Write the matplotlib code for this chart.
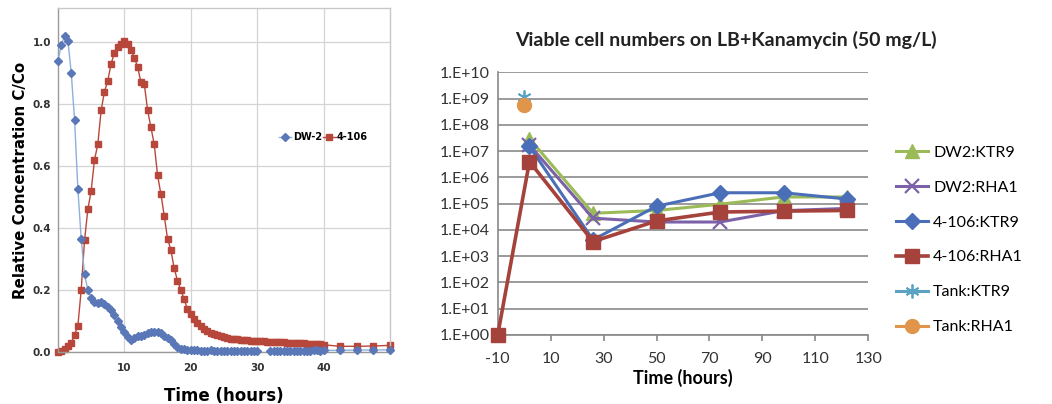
#!/usr/bin/env python3
"""Breakthrough curves and viable cell counts, side by side."""

import matplotlib

matplotlib.use("Agg")

import matplotlib.pyplot as plt
import numpy as np

# ---- left panel: relative concentration C/Co ----
t_dense = [i * 0.5 for i in range(81)]
t_sparse = [42.5, 45.0, 47.5, 50.0]

dw2_vals = [
    0.94, 0.99, 1.02, 1.005, 0.90, 0.75, 0.525, 0.365, 0.25, 0.20,
    0.175, 0.162, 0.158, 0.160, 0.155, 0.146, 0.135, 0.120, 0.100, 0.080,
    0.065, 0.048, 0.039, 0.045, 0.050, 0.052, 0.056, 0.060, 0.064, 0.065,
    0.065, 0.062, 0.052, 0.045, 0.039, 0.025, 0.016, 0.010, 0.008, 0.006,
    0.006, 0.005, 0.005, 0.004, 0.004, 0.004, 0.005, 0.004, 0.003, 0.004,
    0.004, 0.003, 0.003, 0.004, 0.004, 0.003, 0.003, 0.003, 0.004, 0.003,
    0.003, np.nan, np.nan, np.nan, 0.002, 0.002, 0.003, 0.003, 0.002, 0.003,
    0.003, 0.003, 0.004, 0.004, 0.003, 0.004, 0.004, 0.005, 0.005, 0.004,
    0.005,
]
dw2_tail = [0.005, 0.006, 0.006, 0.007]

r4106_vals = [
    0.0, 0.003, 0.008, 0.02, 0.03, 0.055, 0.085, 0.20, 0.36, 0.46,
    0.52, 0.62, 0.67, 0.78, 0.84, 0.875, 0.93, 0.965, 0.985, 0.995,
    1.005, 0.995, 0.975, 0.95, 0.92, 0.87, 0.865, 0.78, 0.725, 0.67,
    0.57, 0.51, 0.44, 0.365, 0.33, 0.27, 0.23, 0.20, 0.17, 0.138,
    0.122, 0.105, 0.092, 0.082, 0.074, 0.067, 0.062, 0.057, 0.053, 0.050,
    0.047, 0.045, 0.043, 0.041, 0.040, 0.039, 0.038, 0.037, 0.036, 0.036,
    0.035, 0.034, 0.034, 0.033, 0.033, 0.032, 0.032, 0.031, 0.031, 0.030,
    0.030, 0.029, 0.029, 0.028, 0.028, 0.027, 0.027, 0.026, 0.025, 0.024,
    0.023,
]
r4106_tail = [0.018, 0.018, 0.019, 0.021]

# ---- right panel: viable cell numbers ----
t_main = [2, 26, 50, 74, 98, 122]
dw2_ktr9 = [3.0e7, 4.3e4, 5.5e4, 9.5e4, 1.8e5, 1.8e5]
dw2_rha1 = [1.7e7, 2.8e4, 2.0e4, 2.0e4, 5.4e4, 6.6e4]
k4106_ktr9 = [1.5e7, 4.2e3, 8.0e4, 2.6e5, 2.6e5, 1.5e5]
t_rha1 = [-10, 2, 26, 50, 74, 98, 122]
k4106_rha1 = [1.0, 4.0e6, 3.6e3, 2.2e4, 4.8e4, 5.2e4, 5.5e4]
t_tank = [0]
tank_ktr9 = [1.1e9]
tank_rha1 = [5.7e8]

xticks_right = [-10, 10, 30, 50, 70, 90, 110, 130]
yticks_right = [10.0 ** k for k in range(11)]


def plot_breakthrough(fig):
    ax = fig.add_axes([0.0551, 0.129, 0.3156, 0.851])
    blue_line = "#8db0dc"
    blue_mark = "#5a78b8"
    red = "#b8473b"
    t_all = t_dense + t_sparse
    ax.plot(t_all, dw2_vals + dw2_tail, "-", color=blue_line, lw=1.0,
            marker="D", ms=3.8, mfc=blue_mark, mec=blue_mark, label="DW-2",
            clip_on=False, zorder=3)
    ax.plot(t_all, r4106_vals + r4106_tail, "-", color=red, lw=1.0,
            marker="s", ms=3.8, mfc=red, mec=red, label="4-106",
            clip_on=False, zorder=2)

    ax.set_xlim(0, 50)
    ax.set_ylim(0, 1.11)
    ax.set_xticks([10, 20, 30, 40])
    ax.set_yticks([0.0, 0.2, 0.4, 0.6, 0.8, 1.0])
    ax.set_yticklabels(["0.0", "0.2", "0.4", "0.6", "0.8", "1.0"])
    ax.tick_params(length=0, labelsize=7.5, colors="#333333", pad=5)
    ax.tick_params(axis="x", pad=8)
    for lab in ax.get_xticklabels() + ax.get_yticklabels():
        lab.set_fontweight("bold")
    ax.grid(True, color="#d4d4d4", lw=0.9)
    ax.set_axisbelow(True)
    for side, sp in ax.spines.items():
        sp.set_color("#c8c8c8")
        sp.set_linewidth(1.0)
    ax.spines["left"].set_color("#999999")
    ax.spines["bottom"].set_color("#999999")

    ax.set_xlabel("Time (hours)", fontsize=12, fontweight="bold", labelpad=10)
    ax.set_ylabel("Relative Concentration C/Co", fontsize=10.8,
                  fontweight="bold", labelpad=3)
    ax.legend(loc="center left", bbox_to_anchor=(0.665, 0.625), ncol=2,
              frameon=False, handlelength=1.3, columnspacing=0.1,
              handletextpad=0.15, borderaxespad=0, borderpad=0,
              prop={"weight": "bold", "size": 7})
    return ax


def plot_viable(fig):
    ax = fig.add_axes([0.4731, 0.1708, 0.3523, 0.6502])
    font = "Lato"
    ax.plot(t_main, dw2_ktr9, "-", color="#9bbb59", lw=2.2, marker="^",
            ms=10, label="DW2:KTR9", zorder=3)
    ax.plot(t_main, dw2_rha1, "-", color="#7b62a8", lw=2.2, marker="x",
            ms=10, mew=1.6, label="DW2:RHA1", zorder=3)
    ax.plot(t_main, k4106_ktr9, "-", color="#4a6fb8", lw=2.2, marker="D",
            ms=8.5, label="4-106:KTR9", zorder=4)
    ax.plot(t_rha1, k4106_rha1, "-", color="#a5423c", lw=2.6, marker="s",
            ms=10.5, label="4-106:RHA1", zorder=5, clip_on=False)
    ax.plot(t_tank, tank_ktr9, "-", color="#5ba3c4", lw=2.2, marker=(6, 2, 0),
            ms=10, mew=1.3, label="Tank:KTR9", zorder=3)
    ax.plot(t_tank, tank_rha1, "-", color="#e0954a", lw=2.2, marker="o",
            ms=10, label="Tank:RHA1", zorder=4)

    ax.set_yscale("log")
    ax.set_xlim(-10, 130)
    ax.set_ylim(1.0, 1.0e10)
    ax.set_xticks(xticks_right)
    ax.set_xticklabels([str(v) for v in xticks_right], fontfamily=font)
    ax.set_yticks(yticks_right)
    ax.set_yticklabels(["1.E+%02d" % k for k in range(11)], fontfamily=font)
    ax.yaxis.set_minor_locator(matplotlib.ticker.NullLocator())
    ax.tick_params(axis="y", length=0, labelsize=11.5, colors="#333333", pad=6)
    ax.tick_params(axis="x", length=4, width=1.2, color="#888888",
                   labelsize=11.5, labelcolor="#333333", pad=8,
                   direction="out")
    ax.grid(True, axis="y", color="#8a8a8a", lw=1.2)
    ax.set_axisbelow(True)
    for side in ("top", "right"):
        ax.spines[side].set_visible(False)
    ax.spines["left"].set_color("#888888")
    ax.spines["bottom"].set_color("#888888")
    ax.spines["left"].set_linewidth(1.2)
    ax.spines["bottom"].set_linewidth(1.2)

    ax.set_xlabel("Time (hours)", fontsize=13, fontweight="bold",
                  fontfamily=font, labelpad=2)
    fig.text(0.69, 0.901, "Viable cell numbers on LB+Kanamycin (50 mg/L)",
             ha="center", va="center", fontsize=14, fontweight="bold",
             fontfamily=font, color="#222222")
    ax.legend(loc="upper left", bbox_to_anchor=(0.852, 0.64),
              bbox_transform=fig.transFigure, frameon=False,
              prop={"family": font, "size": 11.5}, handlelength=2.0,
              handletextpad=0.3, labelspacing=1.3, borderaxespad=0,
              borderpad=0)
    return ax


def main():
    fig = plt.figure(figsize=(10.52, 4.04), dpi=100)
    plot_breakthrough(fig)
    plot_viable(fig)
    fig.savefig("out.png", dpi=100)
    plt.close(fig)


if __name__ == "__main__":
    main()
